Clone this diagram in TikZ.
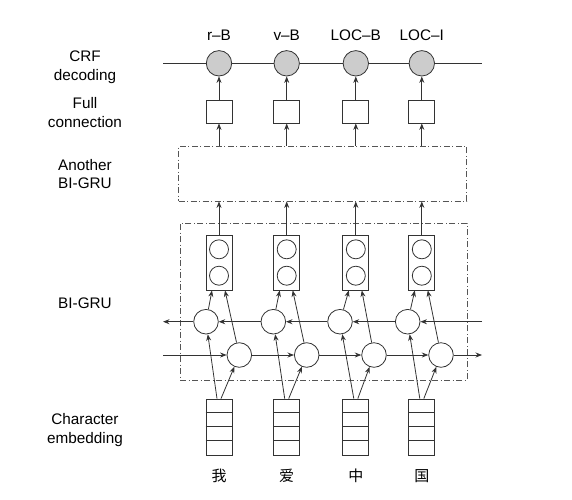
\documentclass[tikz,border=0pt]{standalone}
\usepackage{fontspec}
\setmainfont{Liberation Sans}
\newfontfamily\cjk{Noto Sans CJK SC}
\usetikzlibrary{arrows.meta}
\definecolor{ln}{HTML}{333333}
\definecolor{crf}{HTML}{CCCCCC}
\definecolor{dsh}{HTML}{555555}
\begin{document}
\begin{tikzpicture}[x=1pt,y=-1pt,
  color=ln,text=black,line width=0.8pt,
  font=\fontsize{15.3}{18.5}\selectfont,
  lbl/.style={align=center,inner sep=0},
  crfc/.style={circle,draw=ln,fill=crf,minimum size=25.4pt,inner sep=0},
  fcbox/.style={draw=ln,minimum width=26pt,minimum height=23pt,inner sep=0},
  gru/.style={circle,draw=ln,minimum size=24.6pt,inner sep=0},
  obox/.style={draw=ln,minimum width=26pt,minimum height=55pt,inner sep=0},
  ocirc/.style={circle,draw=ln,minimum size=19pt,inner sep=0},
  ebox/.style={draw=ln,minimum width=26pt,minimum height=56pt,inner sep=0},
  dbox/.style={draw=dsh,dash pattern=on 6pt off 2.5pt on 1pt off 2.5pt,inner sep=0},
  arr/.style={-{Stealth[length=6.5pt,width=5pt]}}
]
\useasboundingbox (0,0) rectangle (572,499);

% left labels
\node[lbl] (lcrf) at (85,67) {CRF\\decoding};
\node[lbl] (lfc) at (85,112.5) {Full\\connection};
\node[lbl] (lanother) at (85,174) {Another\\BI-GRU};
\node[lbl] (lbigru) at (85,303) {BI-GRU};
\node[lbl] (lchar) at (85,430) {Character\\embedding};

% dashed boxes
\node[dbox,minimum width=288pt,minimum height=55pt] (another) at (322.5,173.5) {};
\node[dbox,minimum width=287pt,minimum height=157pt] (bigru) at (323.5,301.5) {};

% columns
\foreach \i/\x/\bx/\fx/\tag/\ch in {1/219/206/239.3/r–B/我,2/286.7/273.3/306.7/v–B/爱,3/355.8/340/374/LOC–B/中,4/421.8/407.7/441/LOC–I/国}{
  \node[lbl] (t\i) at (\x,35) {\tag};
  \node[crfc] (r\i) at (\x,63.3) {};
  \node[fcbox] (c\i) at (\x,111.5) {};
  \node[obox] (o\i) at (\x,262.5) {};
  \node[ocirc] (o\i a) at (\x,249.3) {};
  \node[ocirc] (o\i b) at (\x,275.7) {};
  \node[gru] (b\i) at (\bx,321.7) {};
  \node[gru] (f\i) at (\fx,355) {};
  \node[ebox] (e\i) at (\x,427) {};
  \node[lbl,font=\cjk\fontsize{15}{18}\selectfont] (w\i) at (\x,475.7) {\ch};
  \foreach \k in {14,28,42}{
    \draw ([yshift=-\k pt]e\i.north west) -- ([yshift=-\k pt]e\i.north east);
  }
  \draw[arr] (c\i) -- (r\i);
  \draw[arr] (c\i.south |- another.north) -- (c\i.south);
  \draw[arr] (o\i.north) -- (o\i.north |- another.south);
  \draw[arr] (b\i) -- ([xshift=-7pt]o\i.south);
  \draw[arr] (f\i) -- ([xshift=6pt]o\i.south);
  \draw[arr] ([xshift=-2pt]e\i.north) -- (b\i);
  \draw[arr] ([xshift=2pt]e\i.north) -- (f\i);
}

% CRF chain
\coordinate (crfL) at (163,63.3);
\coordinate (crfR) at (482,63.3);
\draw (crfL) -- (r1) -- (r2) -- (r3) -- (r4) -- (crfR);

% backward chain
\coordinate (bL) at (163,321.7);
\coordinate (bR) at (482,321.7);
\draw[arr] (bR) -- (b4);
\draw[arr] (b4) -- (b3);
\draw[arr] (b3) -- (b2);
\draw[arr] (b2) -- (b1);
\draw[arr] (b1) -- (bL);

% forward chain
\coordinate (fL) at (163,355);
\coordinate (fR) at (482,355);
\draw[arr] (fL) -- (f1);
\draw[arr] (f1) -- (f2);
\draw[arr] (f2) -- (f3);
\draw[arr] (f3) -- (f4);
\draw[arr] (f4) -- (fR);
\end{tikzpicture}
\end{document}
